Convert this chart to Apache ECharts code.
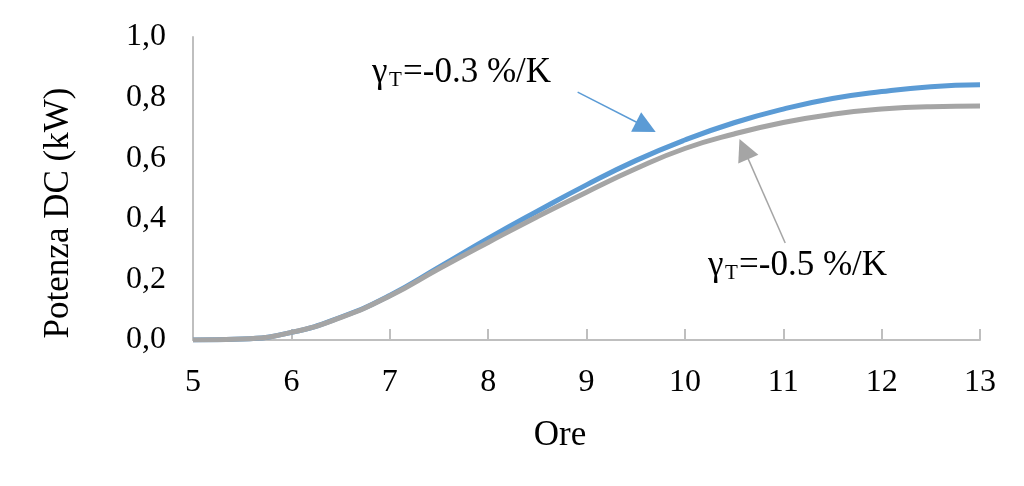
<!DOCTYPE html>
<html>
<head>
<meta charset="utf-8">
<script src="https://cdn.jsdelivr.net/npm/echarts@6/dist/echarts.min.js"></script>
<style>
html,body{margin:0;padding:0;background:#fff;}
#chart{width:1024px;height:486px;}
</style>
</head>
<body>
<div id="chart"></div>
<script>
var hours = [5, 5.5, 6, 6.5, 7, 7.5, 8, 8.5, 9, 9.5, 10, 10.5, 11, 11.5, 12, 12.5, 13];
var power03 = [0, 0.003, 0.025, 0.075, 0.147, 0.24, 0.335, 0.425, 0.512, 0.592, 0.66, 0.717, 0.762, 0.797, 0.82, 0.836, 0.842];
var power05 = [0, 0.003, 0.025, 0.074, 0.145, 0.235, 0.322, 0.407, 0.488, 0.565, 0.632, 0.68, 0.718, 0.745, 0.762, 0.77, 0.772];
var label03 = ['γ', 'T', '=-0.3 %/K'];
var label05 = ['γ', 'T', '=-0.5 %/K'];
var arrow03 = [[8.91, 0.818], [9.604, 0.703]];
var arrow05 = [[11.02, 0.32], [10.60, 0.630]];

var FONT = '"Liberation Serif", "DejaVu Serif", serif';
function pairs(xs, ys) { return xs.map(function (x, i) { return [x, ys[i]]; }); }

function annot(parts, x, y) {
  return [
    {type: 'text', x: x, y: y, style: {text: parts[0], font: '35px ' + FONT, fill: '#000'}},
    {type: 'text', x: x + 17, y: y + 15, style: {text: parts[1], font: '21px ' + FONT, fill: '#000'}},
    {type: 'text', x: x + 31, y: y, style: {text: parts[2], font: '35px ' + FONT, fill: '#000'}}
  ];
}

var chart = echarts.init(document.getElementById('chart'), null, {renderer: 'canvas'});
chart.setOption({
  animation: false,
  backgroundColor: '#fff',
  grid: {left: 193, right: 44, top: 37, bottom: 146},
  xAxis: {
    type: 'value', min: 5, max: 13, interval: 1,
    axisLine: {lineStyle: {color: '#bfbfbf', width: 2}},
    axisTick: {show: true, inside: true, length: 11, lineStyle: {color: '#bfbfbf', width: 2}},
    axisLabel: {color: '#000', fontFamily: FONT, fontSize: 32, margin: 27},
    splitLine: {show: false}
  },
  yAxis: {
    type: 'value', min: 0, max: 1, interval: 0.2,
    axisLine: {show: true, lineStyle: {color: '#bfbfbf', width: 2}},
    axisTick: {show: false},
    axisLabel: {color: '#000', fontFamily: FONT, fontSize: 32, margin: 27,
      formatter: function (v) { return v.toFixed(1).replace('.', ','); }},
    splitLine: {show: false}
  },
  graphic: annot(label03, 372, 55).concat(annot(label05, 708, 248)).concat([
    {type: 'text', x: 59, y: 213, rotation: Math.PI / 2,
      style: {text: 'Potenza DC (kW)', font: '35px ' + FONT, fill: '#000', textAlign: 'center', textVerticalAlign: 'middle'}},
    {type: 'text', x: 560, y: 436,
      style: {text: 'Ore', font: '35px ' + FONT, fill: '#000', textAlign: 'center', textVerticalAlign: 'middle'}}
  ]),
  series: [
    {
      type: 'line', data: pairs(hours, power03), smooth: true, showSymbol: false,
      lineStyle: {color: '#5B9BD5', width: 5}, itemStyle: {color: '#5B9BD5'},
      markLine: {
        silent: true, symbol: ['none', 'triangle'], symbolSize: 22,
        label: {show: false},
        lineStyle: {color: '#5B9BD5', width: 1.5, type: 'solid'},
        data: [[{coord: arrow03[0]}, {coord: arrow03[1]}]]
      }
    },
    {
      type: 'line', data: pairs(hours, power05), smooth: true, showSymbol: false,
      lineStyle: {color: '#A5A5A5', width: 5}, itemStyle: {color: '#A5A5A5'},
      markLine: {
        silent: true, symbol: ['none', 'triangle'], symbolSize: 22,
        label: {show: false},
        lineStyle: {color: '#A5A5A5', width: 1.5, type: 'solid'},
        data: [[{coord: arrow05[0]}, {coord: arrow05[1]}]]
      }
    }
  ]
});
</script>
</body>
</html>
